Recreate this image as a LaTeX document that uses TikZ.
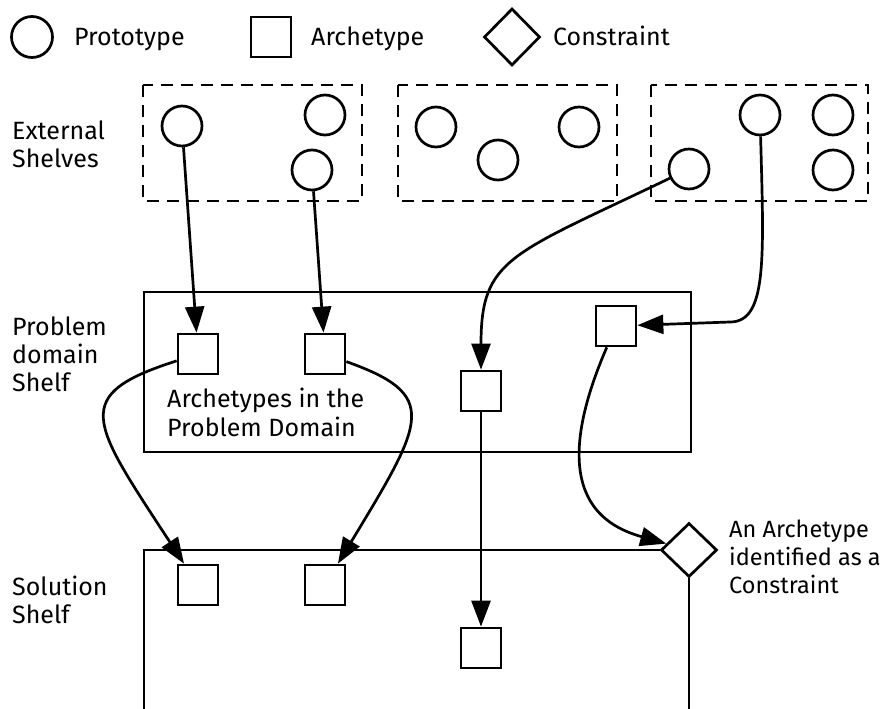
\documentclass[tikz,border=0pt]{standalone}
\usepackage{fontspec}
\setmainfont{Fira Sans}
\usetikzlibrary{shapes.geometric,arrows.meta}
\begin{document}
\begin{tikzpicture}[x=1pt,y=-1pt,
  proto/.style={circle,draw,line width=2.7pt,minimum size=40pt,inner sep=0pt},
  arch/.style={rectangle,draw,line width=2.7pt,minimum width=40pt,minimum height=40pt,inner sep=0pt},
  cons/.style={diamond,draw,line width=2.7pt,minimum width=56pt,minimum height=56pt,inner sep=0pt},
  shelf/.style={draw,line width=2.7pt},
  extshelf/.style={draw,line width=2.7pt,dash pattern=on 12pt off 8pt},
  lab/.style={font=\fontsize{25}{28}\selectfont,inner sep=0pt,anchor=base west},
  smalllab/.style={font=\fontsize{23.5}{28}\selectfont,inner sep=0pt,anchor=base west},
  conn/.style={line width=2.7pt,-{Triangle[length=26pt,width=19pt]}},
  plain/.style={line width=2.7pt},
]
\useasboundingbox (0,0) rectangle (889,709);

% legend
\node[proto,minimum size=41pt] (lc) at (32,37) {};
\node[lab] (lct) at (74,46) {Prototype};
\node[arch] (ls) at (271,37) {};
\node[lab] (lst) at (311,46) {Archetype};
\node[cons,minimum width=56pt,minimum height=57pt] (ld) at (512,37) {};
\node[lab] (ldt) at (553,46) {Constraint};

% left labels
\node[lab] (e1) at (12,139) {External};
\node[lab] (e2) at (12,167) {Shelves};
\node[lab] (p1) at (12,335) {Problem};
\node[lab] (p2) at (12,363) {domain};
\node[lab] (p3) at (12,391) {Shelf};
\node[lab] (q1) at (12,595) {Solution};
\node[lab] (q2) at (12,623) {Shelf};

% external shelves
\draw[extshelf] (143,85) rectangle (362,201);
\draw[extshelf] (398,85) rectangle (617,201);
\draw[extshelf] (651,85) rectangle (868,201);
\node[proto] (c1) at (182,126) {};
\node[proto] (c2) at (325,115) {};
\node[proto] (c3) at (312,170) {};
\node[proto] (c4) at (436,127) {};
\node[proto] (c5) at (498,160) {};
\node[proto] (c6) at (579,127) {};
\node[proto] (c7) at (689,169) {};
\node[proto] (c8) at (760,115) {};
\node[proto] (c9) at (833,115) {};
\node[proto] (c10) at (833,170) {};

% problem domain shelf
\draw[shelf] (144,292) rectangle (691,452);
\node[arch] (s1) at (198,354) {};
\node[arch] (s2) at (325,354) {};
\node[arch] (s3) at (481,391) {};
\node[arch] (s4) at (616,326) {};
\node[lab] (a1) at (167,407) {Archetypes in the};
\node[lab] (a2) at (167,436) {Problem Domain};

% solution shelf
\node[cons,minimum width=56pt,minimum height=54pt] (cn) at (689,550) {};
\coordinate (sbl) at (144,709);
\coordinate (sbr) at (689,709);
\draw[plain] (sbl) -- (144,550) -- (cn.west);
\draw[plain] (cn.south) -- (sbr);
\node[arch] (s5) at (198,585) {};
\node[arch] (s6) at (325,585) {};
\node[arch] (s7) at (481,648) {};
\node[smalllab] (d1) at (729,537) {An Archetype};
\node[smalllab] (d2) at (729,565) {identified as a};
\node[smalllab] (d3) at (729,593) {Constraint};

% connectors
\draw[conn] (c1) -- (s1);
\draw[conn] (c3) -- (s2);
\draw[conn] (c7) .. controls (510,255) and (481,258) .. (s3);
\coordinate (k4) at (730,322);
\draw[conn] (c8) .. controls (764,260) and (767,322) .. (k4) -- (s4);
\draw[conn] (s1) .. controls (70,395) and (90,420) .. (s5);
\draw[conn] (s2) .. controls (440,395) and (425,420) .. (s6);
\draw[conn] (s3) -- (s7);
\draw[conn] (s4) .. controls (545,490) and (600,525) .. (cn);
\end{tikzpicture}
\end{document}
